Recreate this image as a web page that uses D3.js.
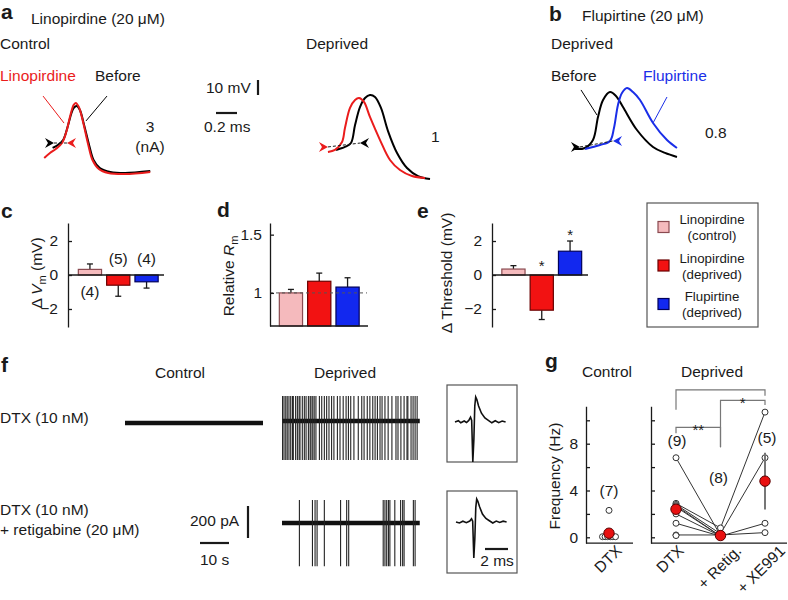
<!DOCTYPE html>
<html><head><meta charset="utf-8">
<script src="https://cdn.jsdelivr.net/npm/d3@7"></script>
<style>
body{margin:0;background:#fff}
svg text{font-family:"Liberation Sans",Arial,Helvetica,sans-serif}
</style></head><body>
<svg id="fig" width="788" height="600"></svg>
<script>
// ================= DATA =================
// Panels a/b: action potentials, [time (ms), membrane potential (mV)]
const apCtrlBefore=[[0.12,-53.3],[0.17,-51.3],[0.22,-48],[0.26,-40],[0.30,-30],[0.32,-26.7],[0.35,-25.3],[0.38,-28],[0.42,-38],[0.47,-52],[0.51,-61.3],[0.57,-66.7],[0.67,-69.3],[0.81,-70],[1.05,-68.7]];
const apCtrlLino=[[0.04,-60],[0.095,-56.7],[0.15,-54],[0.21,-50],[0.25,-42.7],[0.29,-31.3],[0.32,-24.7],[0.34,-23.3],[0.37,-26],[0.41,-36],[0.46,-51.3],[0.50,-61.3],[0.56,-67.3],[0.65,-70],[0.81,-70.7],[1.05,-69.3]];
const apDepBefore=[[0.248,-53.3],[0.333,-51.3],[0.39,-48.7],[0.429,-36.7],[0.476,-24.7],[0.524,-18.7],[0.571,-16.7],[0.619,-18],[0.676,-25.3],[0.743,-40.7],[0.829,-55.3],[0.924,-65.3],[1.029,-70.7],[1.143,-72.7]];
const apDepLino=[[0.171,-54.7],[0.238,-53.3],[0.305,-48],[0.333,-38.7],[0.381,-25.3],[0.429,-20],[0.467,-18.7],[0.514,-21.3],[0.571,-31.3],[0.667,-46.7],[0.762,-60],[0.857,-66.7],[0.971,-70.7],[1.095,-72]];
const apFluBefore=[[0.143,-52.7],[0.238,-52],[0.314,-46.7],[0.362,-31.3],[0.41,-20],[0.476,-14.7],[0.533,-17.3],[0.6,-24.7],[0.733,-40],[0.886,-51.3],[1.0,-55.3],[1.114,-58]];
const apFluDrug=[[0.238,-52.7],[0.381,-50],[0.476,-47.3],[0.514,-38.7],[0.552,-23.3],[0.59,-15.3],[0.638,-12],[0.695,-14.7],[0.762,-20],[0.886,-35.3],[1.019,-46.7],[1.114,-52]];
// thresholds [time early, V early, time late, V late]
const thrCtrl=[0.133,-50,0.257,-50];
const thrDep=[0.171,-51.3,0.476,-48.7];
const thrFlu=[0.19,-51.3,0.505,-47.3];
const stimLabels=["3\n(nA)","1","0.8"];

// Panels c/d/e
const conditions=["Linopirdine (control)","Linopirdine (deprived)","Flupirtine (deprived)"];
const dVm=[0.33,-0.6,-0.4];
const dVmErr=[0.32,0.65,0.37];
const dVmN=["(4)","(5)","(4)"];
const relRm=[1.0,1.1,1.05];
const relRmErr=[0.03,0.07,0.08];
const dThr=[0.35,-2.07,1.4];
const dThrErr=[0.2,0.55,0.6];
const dThrSig=["","*","*"];

// Panel f: spike times (s) in 47.5 s recordings
const recDur=47.5;
const spikesDTX=[0.2,0.7,1.3,1.8,2.4,3.0,3.6,3.9,4.7,5.3,5.9,6.2,7.0,7.7,8.3,9.1,9.7,10.0,10.6,11.1,11.7,12.9,13.7,14.6,15.4,16.2,17.1,17.9,19.1,20.0,21.1,22.1,22.9,23.7,24.8,26.3,27.5,28.3,29.4,30.3,31.3,32.1,32.9,33.8,34.5,35.5,36.6,37.9,39.3,40.0,41.0,42.1,43.1,43.4,44.5,45.2,45.9,46.6];
const spikesRetig=[6.0,10.5,11.4,12.1,14.6,20.2,22.3,23.0,34.9,35.5,36.1,36.7,37.2,38.9,40.9,41.6,42.1,45.3,45.9];
const spikeDTXpA=[156,-244];
const spikeRetigpA=[144,-270];
// insets [time (ms), current (pA)]
const insetDTX=[[0,0],[0.3,8],[0.5,-5],[0.8,6],[1.0,-3],[1.2,10],[1.35,30],[1.45,10],[1.55,-250],[1.64,-110],[1.72,100],[1.8,156],[1.9,140],[2.05,100],[2.3,55],[2.6,25],[2.9,10],[3.2,-5],[3.5,8],[3.8,-4],[4.1,6],[4.4,0]];
const insetRetig=[[0,0],[0.3,-6],[0.6,5],[0.9,-4],[1.2,6],[1.35,20],[1.45,5],[1.55,-225],[1.64,-100],[1.72,90],[1.8,144],[1.9,130],[2.05,95],[2.3,50],[2.6,22],[2.9,8],[3.2,-6],[3.5,6],[3.8,-3],[4.1,5],[4.4,0]];

// Panel g: frequency (Hz)
const ctrlDTX=[2.3,0.05,0.05,0.05,0.05,0.05,0.05];
const ctrlMean=0.35;
const gCats=["DTX","+ Retig.","+ XE991"];
const depDTX=[6.8,2.9,2.8,2.7,2.6,2.0,1.2,0.2,0.15];
const depRetig=[0.15,0.8,0.3,0.1,0.1,0.1,0.1,0.2,null];
const depXE=[null,10.7,6.8,1.2,null,null,null,0.4,null];
const depMeans=[2.4,0.15,4.8];
const depSEM=[0,0,2.42];
const gN=[["(7)",4.0],["(9)",8.2],["(8)",5.1],["(5)",8.5]];
const brackets=[{a:0,b:2,top:12.6,legA:10.9,legB:12.1,label:""},{a:1,b:2,top:11.7,legA:7.7,legB:11.3,label:"*"},{a:0,b:1,top:9.4,legA:8.9,legB:7.7,label:"**"}];

// ================= STYLE =================
const INK="#1a1a1a", RED="#ea1c1c", BLUE="#1a2ee8";
const FILLS=["#f5babd","#f21212","#1228ef"], STROKES=["#8a4a50","#6a0000","#00005a"];
const FONT='"Liberation Sans",Arial,Helvetica,sans-serif';
const FS=15.5;
const svg=d3.select("#fig");

function T(x,y,s,o={}){
  const t=svg.append("text").attr("font-size",o.size||FS).attr("fill",o.fill||INK).attr("text-anchor",o.anchor||"start");
  if(o.rot!=null) t.attr("transform",`translate(${x},${y}) rotate(${o.rot})`); else t.attr("x",x).attr("y",y);
  if(o.bold) t.attr("font-weight","bold");
  if(s!=null) t.text(s);
  return t;
}
function styleAxis(g){g.attr("font-size",FS).attr("font-family",FONT).attr("color",INK);g.selectAll("path,line").attr("stroke-width",1.3);g.selectAll("text").attr("fill",INK);}

// ================= PANELS a/b =================
T(1,19,"a",{size:21,bold:true});
T(31,24,"Linopirdine (20 μM)");
T(0,49,"Control");
T(306,49,"Deprived");
T(0,81,"Linopirdine",{fill:RED});
T(95,81,"Before");
T(549,21,"b",{size:21,bold:true});
T(582,21,"Flupirtine (20 μM)");
T(551,49,"Deprived");
T(551,81,"Before");
T(643,81,"Flupirtine",{fill:BLUE});

function apPanel(x0,yRef){return {x:d3.scaleLinear().domain([0,1]).range([x0,x0+105]),y:d3.scaleLinear().domain([-50,-40]).range([yRef,yRef-15])};}
const pC=apPanel(40,143), pD=apPanel(310,145), pF=apPanel(560,145);
function drawAP(p,data,col){
  svg.append("path").datum(data).attr("fill","none").attr("stroke",col).attr("stroke-width",2)
    .attr("d",d3.line().x(d=>p.x(d[0])).y(d=>p.y(d[1])).curve(d3.curveCatmullRom.alpha(0.5)));
}
function arrow(x,y,dir,col){
  svg.append("path").attr("d","M0,0 L-9,-5 L-6,0 L-9,5 Z").attr("fill",col)
    .attr("transform",`translate(${x},${y}) scale(${dir},1)`);
}
function thr(p,th,cEarly,cLate){
  svg.append("line").attr("x1",p.x(th[0])).attr("y1",p.y(th[1])).attr("x2",p.x(th[2])).attr("y2",p.y(th[3]))
    .attr("stroke",INK).attr("stroke-width",1).attr("stroke-dasharray","3,2");
  arrow(p.x(th[0]),p.y(th[1]),1,cEarly);
  arrow(p.x(th[2]),p.y(th[3]),-1,cLate);
}
function leader(p,a,b,col){svg.append("line").attr("x1",p.x(a[0])).attr("y1",p.y(a[1])).attr("x2",p.x(b[0])).attr("y2",p.y(b[1])).attr("stroke",col).attr("stroke-width",1);}

drawAP(pC,apCtrlBefore,"#000"); drawAP(pC,apCtrlLino,RED);
thr(pC,thrCtrl,"#000",RED);
leader(pC,[0.029,-18.7],[0.229,-36.7],RED);
leader(pC,[0.638,-18.7],[0.438,-35.3],"#000");
drawAP(pD,apDepBefore,"#000"); drawAP(pD,apDepLino,RED);
thr(pD,thrDep,RED,"#000");
drawAP(pF,apFluBefore,"#000"); drawAP(pF,apFluDrug,BLUE);
thr(pF,thrFlu,"#000",BLUE);
leader(pF,[0.2,-13.3],[0.352,-30],"#000");
leader(pF,[1.019,-18],[0.886,-35.3],BLUE);

T(150,132,"3",{anchor:"middle"}); T(150,152,"(nA)",{anchor:"middle"});
T(431,142,stimLabels[1]); T(705,138,stimLabels[2]);
// scale bars
T(206,93,"10 mV");
svg.append("line").attr("x1",258).attr("x2",258).attr("y1",80).attr("y2",80+(pC.y(-50)-pC.y(-40))).attr("stroke",INK).attr("stroke-width",2.2);
svg.append("line").attr("x1",216).attr("x2",216+(pC.x(0.2)-pC.x(0))).attr("y1",113).attr("y2",113).attr("stroke",INK).attr("stroke-width",2.2);
T(204,132,"0.2 ms");

// ================= PANELS c/d/e =================
T(1,218,"c",{size:21,bold:true});
T(217,217,"d",{size:21,bold:true});
T(417,218,"e",{size:21,bold:true});

function bars(xs,ys,vals,errs,base){
  vals.forEach((v,i)=>{
    const x=xs(conditions[i]), w=xs.bandwidth();
    const y0=ys(base), y1=ys(v);
    const e=ys(v+(v>=base?1:-1)*errs[i]);
    svg.append("line").attr("x1",x+w/2).attr("x2",x+w/2).attr("y1",y1).attr("y2",e).attr("stroke",INK).attr("stroke-width",1.3);
    svg.append("line").attr("x1",x+w/2-3).attr("x2",x+w/2+3).attr("y1",e).attr("y2",e).attr("stroke",INK).attr("stroke-width",1.3);
    svg.append("rect").attr("x",x).attr("width",w).attr("y",Math.min(y0,y1)).attr("height",Math.abs(y1-y0))
      .attr("fill",FILLS[i]).attr("stroke",STROKES[i]).attr("stroke-width",1.2);
  });
}
const intFmt=d3.format("d");
// c
const yc=d3.scaleLinear().domain([-3.06,3.06]).range([327,223]);
const xc=d3.scaleBand().domain(conditions).range([75.5,161]).paddingInner(0.18).paddingOuter(0.1);
bars(xc,yc,dVm,dVmErr,0);
svg.append("g").attr("transform","translate(68,0)").call(d3.axisLeft(yc).tickValues([-2,0,2]).tickFormat(intFmt).tickSizeInner(-4).tickSizeOuter(0).tickPadding(10)).call(styleAxis);
svg.append("line").attr("x1",68).attr("x2",164).attr("y1",yc(0)).attr("y2",yc(0)).attr("stroke",INK).attr("stroke-width",1.4);
dVmN.forEach((n,i)=>{const x=xc(conditions[i])+xc.bandwidth()/2; const below=dVm[i]>0; T(x,below?yc(0)+22:yc(0)-11,n,{anchor:"middle"});});
{const t=T(42,273,null,{rot:-90,anchor:"middle"});t.append("tspan").text("Δ ");t.append("tspan").attr("font-style","italic").text("V");t.append("tspan").attr("font-size",11).attr("dy",4).text("m");t.append("tspan").attr("dy",-4).text(" (mV)");}
// d
const yd=d3.scaleLinear().domain([0.716,1.6]).range([326,223]);
const xd=d3.scaleBand().domain(conditions).range([276.5,362]).paddingInner(0.18).paddingOuter(0.1);
bars(xd,yd,relRm,relRmErr,0.716);
svg.append("line").attr("x1",270).attr("x2",367).attr("y1",yd(1)).attr("y2",yd(1)).attr("stroke","#555").attr("stroke-width",1).attr("stroke-dasharray","3,3");
svg.append("g").attr("transform","translate(270,0)").call(d3.axisLeft(yd).tickValues([1,1.5]).tickFormat(d=>d===1?"1":"1.5").tickSizeInner(-4).tickSizeOuter(0).tickPadding(8)).call(styleAxis);
svg.append("line").attr("x1",270).attr("x2",368).attr("y1",326).attr("y2",326).attr("stroke",INK).attr("stroke-width",1.4);
{const t=T(234,276,null,{rot:-90,anchor:"middle"});t.append("tspan").text("Relative ");t.append("tspan").attr("font-style","italic").text("R");t.append("tspan").attr("font-size",11).attr("dy",4).text("m");}
// e
const ye=d3.scaleLinear().domain([-3.06,3.06]).range([327,223]);
const xe=d3.scaleBand().domain(conditions).range([499,584.5]).paddingInner(0.18).paddingOuter(0.1);
bars(xe,ye,dThr,dThrErr,0);
svg.append("g").attr("transform","translate(492,0)").call(d3.axisLeft(ye).tickValues([-2,0,2]).tickFormat(intFmt).tickSizeInner(-4).tickSizeOuter(0).tickPadding(10)).call(styleAxis);
svg.append("line").attr("x1",492).attr("x2",588).attr("y1",ye(0)).attr("y2",ye(0)).attr("stroke",INK).attr("stroke-width",1.4);
dThrSig.forEach((s,i)=>{if(!s)return;const x=xe(conditions[i])+xe.bandwidth()/2;const yy=dThr[i]>0?ye(dThr[i]+dThrErr[i])-1:ye(0)-4;T(x,yy,s,{anchor:"middle",size:15});});
T(452,273,"Δ Threshold  (mV)",{rot:-90,anchor:"middle"});
// legend
svg.append("rect").attr("x",647).attr("y",203).attr("width",111).attr("height",124).attr("fill","none").attr("stroke","#555").attr("stroke-width",1.2);
const legLines=[["Linopirdine","(control)"],["Linopirdine","(deprived)"],["Flupirtine","(deprived)"]];
conditions.forEach((c,i)=>{
  const cy=227+i*38.5;
  svg.append("rect").attr("x",658).attr("y",cy-5.5).attr("width",11).attr("height",11).attr("fill",FILLS[i]).attr("stroke",STROKES[i]).attr("stroke-width",1.2);
  T(712,cy-3,legLines[i][0],{anchor:"middle",size:13.3});
  T(712,cy+13,legLines[i][1],{anchor:"middle",size:13.3});
});

// ================= PANEL f =================
T(1,372,"f",{size:21,bold:true});
T(180,378,"Control",{anchor:"middle"});
T(345,378,"Deprived",{anchor:"middle"});
T(0,423,"DTX (10 nM)");
T(0,515,"DTX (10 nM)");
T(0,535,"+ retigabine (20 μM)");
const fxC=d3.scaleLinear().domain([0,recDur]).range([125,263]);
const fxD=d3.scaleLinear().domain([0,recDur]).range([282,419.75]);
const pApx=32/200;
function baseTrace(fx,y){svg.append("line").attr("x1",fx(0)).attr("x2",fx(recDur)).attr("y1",y).attr("y2",y).attr("stroke","#111").attr("stroke-width",4.5);}
function spikes(fx,y,times,amp){times.forEach(t=>{svg.append("line").attr("x1",fx(t)).attr("x2",fx(t)).attr("y1",y-amp[0]*pApx).attr("y2",y-amp[1]*pApx).attr("stroke","#222").attr("stroke-width",1.1);});}
baseTrace(fxC,423);
baseTrace(fxD,421); spikes(fxD,421,spikesDTX,spikeDTXpA);
baseTrace(fxD,523); spikes(fxD,523,spikesRetig,spikeRetigpA);
// scale bars
T(190,526,"200 pA");
svg.append("line").attr("x1",248).attr("x2",248).attr("y1",506).attr("y2",506+200*pApx).attr("stroke",INK).attr("stroke-width",2.2);
svg.append("line").attr("x1",200).attr("x2",200+(fxD(10)-fxD(0))).attr("y1",543).attr("y2",543).attr("stroke",INK).attr("stroke-width",2.2);
T(200,565,"10 s");
// insets
const msPx=11.5;
function inset(bx,by,bh,x0,y0,data){
  svg.append("rect").attr("x",bx).attr("y",by).attr("width",70).attr("height",bh).attr("fill","none").attr("stroke","#555").attr("stroke-width",1.2);
  svg.append("path").datum(data).attr("fill","none").attr("stroke","#111").attr("stroke-width",1.6)
    .attr("d",d3.line().x(d=>x0+d[0]*msPx).y(d=>y0-d[1]*pApx));
}
inset(447,385,77,455,422,insetDTX);
inset(447,491,82,456,522,insetRetig);
svg.append("line").attr("x1",485).attr("x2",485+2*msPx).attr("y1",549).attr("y2",549).attr("stroke",INK).attr("stroke-width",2.2);
T(497,566,"2 ms",{anchor:"middle"});

// ================= PANEL g =================
T(545,368,"g",{size:21,bold:true});
T(607,377,"Control",{anchor:"middle"});
T(712,377,"Deprived",{anchor:"middle"});
const yg=d3.scaleLinear().domain([0,10]).range([537.3,420.3]);
const xgC=609;
const xg=d3.scalePoint().domain(gCats).range([676,765]);
const yTop=yg(11.2), yBot=yg(-0.5);
const gyL=d3.scaleLinear().domain([-0.5,11.2]).range([yBot,yTop]);
svg.append("g").attr("transform","translate(586,0)").call(d3.axisLeft(gyL).tickValues([0,2,4,6,8,10]).tickFormat(d=>d%4===0?d:"").tickSizeInner(-4).tickSizeOuter(0).tickPadding(8)).call(styleAxis);
svg.append("g").attr("transform","translate(651,0)").call(d3.axisLeft(gyL).tickValues([0,2,4,6,8,10]).tickFormat("").tickSizeInner(-4).tickSizeOuter(0)).call(styleAxis);
svg.append("line").attr("x1",586).attr("x2",633).attr("y1",yBot).attr("y2",yBot).attr("stroke",INK).attr("stroke-width",1.4);
svg.append("line").attr("x1",651).attr("x2",787).attr("y1",yBot).attr("y2",yBot).attr("stroke",INK).attr("stroke-width",1.4);
T(560,476,"Frequency (Hz)",{rot:-90,anchor:"middle"});
// rotated category labels
function rotLab(x,s){
  const t=T(0,0,s,{anchor:"middle"});
  const L=t.node().getComputedTextLength();
  const cx=x-3, cy=545+L/2*0.7071+3;
  t.attr("transform",`translate(${cx+3.8},${cy+3.8}) rotate(-45)`);
}
rotLab(xgC+2,"DTX");
gCats.forEach((c,i)=>rotLab(xg(c)+(i===0?-3:i===1?2:-1),c));
// brackets
brackets.forEach(b=>{
  const xa=xg(gCats[b.a]), xb=xg(gCats[b.b]);
  svg.append("path").attr("d",`M${xa},${yg(b.legA)}V${yg(b.top)}H${xb}V${yg(b.legB)}`).attr("fill","none").attr("stroke","#777").attr("stroke-width",1.2);
  if(b.label) T((xa+xb)/2,yg(b.top)+8,b.label,{anchor:"middle",size:15});
});
// n labels
T(xgC,yg(gN[0][1])+5,gN[0][0],{anchor:"middle"});
gCats.forEach((c,i)=>T(xg(c)+(i===0?1:i===2?2:-2),yg(gN[i+1][1])+5,gN[i+1][0],{anchor:"middle"}));
// connecting lines
const cols=[depDTX,depRetig,depXE];
depDTX.forEach((_,k)=>{
  const pts=cols.map((c,j)=>c[k]==null?null:[xg(gCats[j]),yg(c[k])]).filter(p=>p);
  for(let i=1;i<pts.length;i++) svg.append("line").attr("x1",pts[i-1][0]).attr("y1",pts[i-1][1]).attr("x2",pts[i][0]).attr("y2",pts[i][1]).attr("stroke","#333").attr("stroke-width",1);
});
function openDot(x,y){svg.append("circle").attr("cx",x).attr("cy",y).attr("r",3).attr("fill","#fff").attr("stroke","#333").attr("stroke-width",1);}
// control dots with jitter for equal values
const counts={};ctrlDTX.forEach(v=>counts[v]=(counts[v]||0)+1);
const seen={};
ctrlDTX.forEach(v=>{const n=counts[v];const k=seen[v]=(seen[v]||0);seen[v]++;openDot(xgC+(k-(n-1)/2)*2.6,yg(v));});
cols.forEach((c,j)=>c.forEach(v=>{if(v!=null)openDot(xg(gCats[j]),yg(v));}));
// means
depSEM.forEach((s,j)=>{if(s>0)svg.append("line").attr("x1",xg(gCats[j])).attr("x2",xg(gCats[j])).attr("y1",yg(depMeans[j]-s)).attr("y2",yg(depMeans[j]+s)).attr("stroke","#777").attr("stroke-width",2);});
function meanDot(x,y){svg.append("circle").attr("cx",x).attr("cy",y).attr("r",5.2).attr("fill","#e81010").attr("stroke","#5a0000").attr("stroke-width",1);}
meanDot(xgC,yg(ctrlMean));
depMeans.forEach((m,j)=>meanDot(xg(gCats[j]),yg(m)));
</script></body></html>
